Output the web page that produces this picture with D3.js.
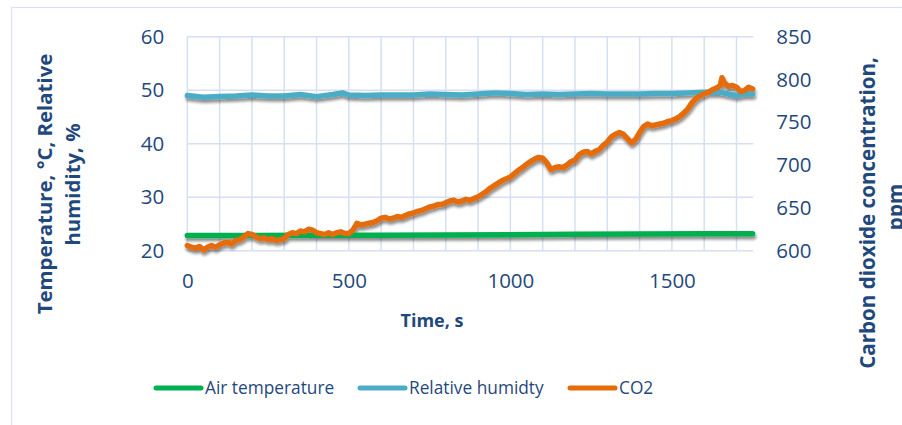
<!DOCTYPE html>
<html>
<head>
<meta charset="utf-8">
<script src="https://cdn.jsdelivr.net/npm/d3@7"></script>
<style>
  html, body { margin: 0; padding: 0; background: #ffffff; }
  svg { display: block; }
  text { font-family: "Open Sans", "Noto Sans", sans-serif; fill: #1F497D; }
</style>
</head>
<body>
<svg id="chart" width="902" height="425"></svg>
<script>
// ---------- DATA ----------
const xTicks = [0, 500, 1000, 1500];
const yLeftTicks = [20, 30, 40, 50, 60];
const yRightTicks = [600, 650, 700, 750, 800, 850];
const seriesNames = ["Air temperature", "Relative humidty", "CO2"];

const tempTime = [0, 200, 400, 600, 800, 1000, 1200, 1400, 1600, 1750];
const tempValues = [22.85, 22.85, 22.88, 22.9, 22.95, 23.0, 23.07, 23.1, 23.15, 23.18];

const rhTime = [0, 50, 100, 150, 200, 250, 300, 350, 400, 450, 480, 500, 550, 600, 650, 700, 750, 800, 850, 900, 950, 1000, 1050, 1100, 1150, 1200, 1250, 1300, 1350, 1400, 1450, 1500, 1550, 1600, 1650, 1700, 1725, 1750];
const rhValues = [49.0, 48.7, 48.8, 48.9, 49.1, 48.9, 48.9, 49.2, 48.8, 49.2, 49.5, 49.1, 49.0, 49.1, 49.1, 49.1, 49.3, 49.2, 49.1, 49.3, 49.5, 49.4, 49.2, 49.3, 49.2, 49.3, 49.4, 49.3, 49.3, 49.3, 49.4, 49.4, 49.5, 49.6, 49.6, 49.0, 49.3, 49.3];

const co2Time = [0, 12.5, 25, 37.5, 50, 62.5, 75, 87.5, 100, 112.5, 125, 137.5, 150, 162.5, 175, 187.5, 200, 212.5, 225, 237.5, 250, 262.5, 275, 287.5, 300, 312.5, 325, 337.5, 350, 362.5, 375, 387.5, 400, 412.5, 425, 437.5, 450, 462.5, 475, 487.5, 500, 512.5, 525, 537.5, 550, 562.5, 575, 587.5, 600, 612.5, 625, 637.5, 650, 662.5, 675, 687.5, 700, 712.5, 725, 737.5, 750, 762.5, 775, 787.5, 800, 812.5, 825, 837.5, 850, 862.5, 875, 887.5, 900, 912.5, 925, 937.5, 950, 962.5, 975, 987.5, 1000, 1012.5, 1025, 1037.5, 1050, 1062.5, 1075, 1087.5, 1100, 1112.5, 1125, 1137.5, 1150, 1162.5, 1175, 1187.5, 1200, 1212.5, 1225, 1237.5, 1250, 1262.5, 1275, 1287.5, 1300, 1312.5, 1325, 1337.5, 1350, 1362.5, 1375, 1387.5, 1400, 1412.5, 1425, 1437.5, 1450, 1462.5, 1475, 1487.5, 1500, 1512.5, 1525, 1537.5, 1550, 1562.5, 1575, 1587.5, 1600, 1612.5, 1625, 1637.5, 1650, 1655, 1662.5, 1675, 1687.5, 1700, 1712.5, 1725, 1737.5, 1750];
const co2Values = [606, 604, 603, 605, 601, 604, 606, 604, 607, 609, 610, 608, 612, 613, 616, 620, 619, 616, 614, 615, 613, 614, 612, 613, 614, 619, 621, 620, 623, 622, 625, 624, 621, 620, 619, 621, 619, 621, 622, 620, 620, 624, 632, 630, 631, 632, 633, 635, 638, 639, 637, 638, 640, 639, 641, 643, 644, 646, 647, 649, 651, 652, 654, 654, 656, 658, 659, 657, 658, 660, 659, 661, 663, 666, 669, 673, 676, 679, 682, 684, 686, 690, 694, 697, 701, 704, 707, 709, 708, 703, 695, 697, 698, 697, 700, 704, 706, 712, 715, 716, 713, 716, 718, 723, 727, 733, 736, 738, 736, 731, 726, 730, 738, 745, 748, 746, 747, 748, 749, 751, 752, 754, 757, 761, 766, 773, 778, 781, 783, 785, 788, 790, 793, 802, 796, 792, 793, 791, 786, 787, 791, 789];

// ---------- CHART ----------
const svg = d3.select("#chart");
const W = 902, H = 425;
const plot = { left: 187.3, right: 753.3, top: 36.7, bottom: 250.7 };

const x = d3.scaleLinear().domain([0, 1752]).range([plot.left, plot.right]);
const yL = d3.scaleLinear().domain([20, 60]).range([plot.bottom, plot.top]);
const yR = d3.scaleLinear().domain([600, 850]).range([plot.bottom, plot.top]);

svg.append("rect").attr("width", W).attr("height", H).attr("fill", "#fff");

// outer chart border (extends past the picture)
svg.append("rect").attr("x", 11.5).attr("y", 7.5).attr("width", 1000).attr("height", 500)
  .attr("fill", "none").attr("stroke", "#d9e2f3").attr("stroke-width", 1.2);

// shadow filter
const defs = svg.append("defs");
const f = defs.append("filter").attr("id", "sh").attr("filterUnits", "userSpaceOnUse")
  .attr("x", 0).attr("y", 0).attr("width", W).attr("height", H);
f.append("feGaussianBlur").attr("in", "SourceAlpha").attr("stdDeviation", 1.8).attr("result", "b");
f.append("feOffset").attr("in", "b").attr("dx", 1).attr("dy", 3).attr("result", "o");
const ct = f.append("feComponentTransfer").attr("in", "o").attr("result", "s");
ct.append("feFuncA").attr("type", "linear").attr("slope", 0.45);
const fm = f.append("feMerge");
fm.append("feMergeNode").attr("in", "s");
fm.append("feMergeNode").attr("in", "SourceGraphic");

// gridlines
const grid = svg.append("g");
grid.selectAll("line.v").data(d3.range(0, 1800, 100)).join("line")
  .attr("x1", d => x(d)).attr("x2", d => x(d))
  .attr("y1", plot.top).attr("y2", plot.bottom)
  .attr("stroke", "#d6e0f0").attr("stroke-width", 1.5);
grid.selectAll("line.h").data(yLeftTicks).join("line")
  .attr("x1", plot.left).attr("x2", plot.right)
  .attr("y1", d => yL(d)).attr("y2", d => yL(d))
  .attr("stroke", "#d6e0f0").attr("stroke-width", 1.5);

// axes
const tickFont = "20.5px";
const ax = svg.append("g").attr("transform", `translate(0,${plot.bottom})`)
  .call(d3.axisBottom(x).tickValues(xTicks).tickSize(0).tickPadding(23).tickFormat(d3.format("d")));
const ayl = svg.append("g").attr("transform", `translate(${plot.left},0)`)
  .call(d3.axisLeft(yL).tickValues(yLeftTicks).tickSize(0).tickPadding(23));
const ayr = svg.append("g").attr("transform", `translate(${plot.right},0)`)
  .call(d3.axisRight(yR).tickValues(yRightTicks).tickSize(0).tickPadding(23));
[ax, ayl, ayr].forEach(g => {
  g.select(".domain").remove();
  g.selectAll("text").style("font-size", tickFont).style("font-family", "'Open Sans', sans-serif").attr("fill", "#1F497D");
});

// lines
const lineL = d3.line().x(d => x(d[0])).y(d => yL(d[1]));
const lineR = d3.line().x(d => x(d[0])).y(d => yR(d[1]));
const colors = ["#00B050", "#4BACC6", "#E46C0A"];

const lines = svg.append("g").attr("filter", "url(#sh)");
lines.append("path").datum(d3.zip(tempTime, tempValues)).attr("d", lineL)
  .attr("fill", "none").attr("stroke", colors[0]).attr("stroke-width", 5.5).attr("stroke-linejoin", "round").attr("stroke-linecap", "round");
lines.append("path").datum(d3.zip(rhTime, rhValues)).attr("d", lineL)
  .attr("fill", "none").attr("stroke", colors[1]).attr("stroke-width", 5.5).attr("stroke-linejoin", "round").attr("stroke-linecap", "round");
lines.append("path").datum(d3.zip(co2Time, co2Values)).attr("d", lineR)
  .attr("fill", "none").attr("stroke", colors[2]).attr("stroke-width", 5.5).attr("stroke-linejoin", "round").attr("stroke-linecap", "round");

// axis titles
svg.append("text").attr("x", 432).attr("y", 327).attr("text-anchor", "middle")
  .style("font-size", "18px").style("font-weight", "bold").text("Time, s");

const lt = svg.append("g").style("font-size", "20.4px").style("font-weight", "bold");
lt.append("text").attr("transform", "translate(52,184) rotate(-90)").attr("text-anchor", "middle").text("Temperature, °C, Relative");
lt.append("text").attr("transform", "translate(80,184.5) rotate(-90)").attr("text-anchor", "middle").text("humidity, %");

const rt = svg.append("g").style("font-size", "20.6px").style("font-weight", "bold");
rt.append("text").attr("transform", "translate(875,213) rotate(-90)").attr("text-anchor", "middle").text("Carbon dioxide concentration,");
rt.append("text").attr("transform", "translate(903,207) rotate(-90)").attr("text-anchor", "middle").text("ppm");

// legend
const legX = [156, 360, 570];
const leg = svg.append("g");
seriesNames.forEach((name, i) => {
  leg.append("line").attr("x1", legX[i]).attr("x2", legX[i] + 45).attr("y1", 388).attr("y2", 388)
    .attr("stroke", colors[i]).attr("stroke-width", 5).attr("stroke-linecap", "round");
  leg.append("text").attr("x", legX[i] + 49).attr("y", 394).style("font-size", "17.3px").text(name);
});
</script>
</body>
</html>
